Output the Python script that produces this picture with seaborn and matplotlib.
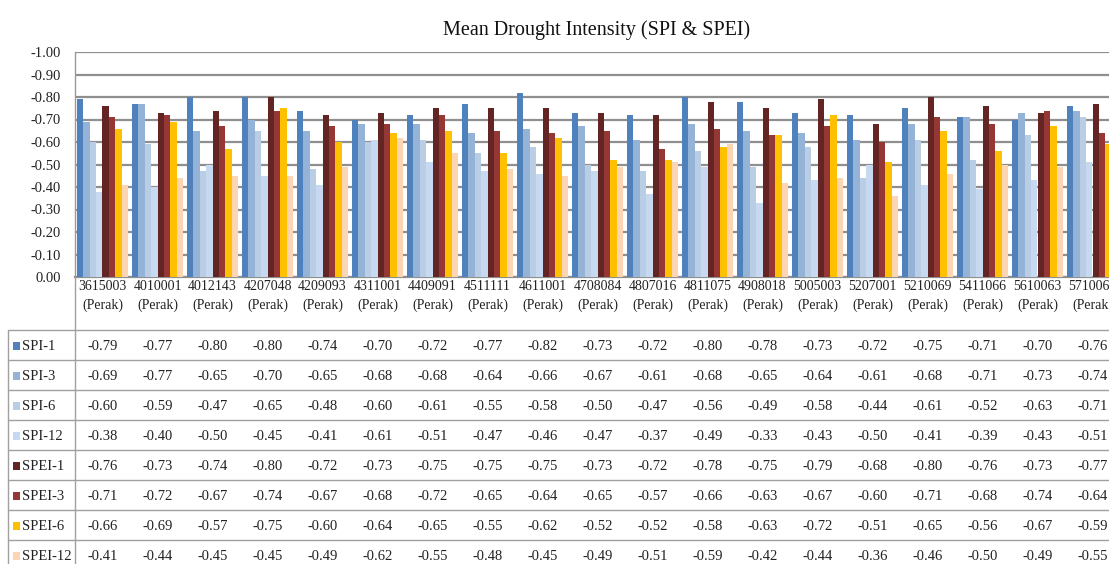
import numpy as np
import pandas as pd
import matplotlib
matplotlib.use("Agg")
import matplotlib.pyplot as plt
from matplotlib.lines import Line2D
from matplotlib.patches import Rectangle
from matplotlib.transforms import blended_transform_factory
import seaborn as sns

stations = ["3615003", "4010001", "4012143", "4207048", "4209093", "4311001",
            "4409091", "4511111", "4611001", "4708084", "4807016", "4811075",
            "4908018", "5005003", "5207001", "5210069", "5411066", "5610063",
            "5710063"]
region = "(Perak)"
series_names = ["SPI-1", "SPI-3", "SPI-6", "SPI-12", "SPEI-1", "SPEI-3", "SPEI-6", "SPEI-12"]

spi_1 = [-0.79, -0.77, -0.80, -0.80, -0.74, -0.70, -0.72, -0.77, -0.82, -0.73, -0.72, -0.80, -0.78, -0.73, -0.72, -0.75, -0.71, -0.70, -0.76]
spi_3 = [-0.69, -0.77, -0.65, -0.70, -0.65, -0.68, -0.68, -0.64, -0.66, -0.67, -0.61, -0.68, -0.65, -0.64, -0.61, -0.68, -0.71, -0.73, -0.74]
spi_6 = [-0.60, -0.59, -0.47, -0.65, -0.48, -0.60, -0.61, -0.55, -0.58, -0.50, -0.47, -0.56, -0.49, -0.58, -0.44, -0.61, -0.52, -0.63, -0.71]
spi_12 = [-0.38, -0.40, -0.50, -0.45, -0.41, -0.61, -0.51, -0.47, -0.46, -0.47, -0.37, -0.49, -0.33, -0.43, -0.50, -0.41, -0.39, -0.43, -0.51]
spei_1 = [-0.76, -0.73, -0.74, -0.80, -0.72, -0.73, -0.75, -0.75, -0.75, -0.73, -0.72, -0.78, -0.75, -0.79, -0.68, -0.80, -0.76, -0.73, -0.77]
spei_3 = [-0.71, -0.72, -0.67, -0.74, -0.67, -0.68, -0.72, -0.65, -0.64, -0.65, -0.57, -0.66, -0.63, -0.67, -0.60, -0.71, -0.68, -0.74, -0.64]
spei_6 = [-0.66, -0.69, -0.57, -0.75, -0.60, -0.64, -0.65, -0.55, -0.62, -0.52, -0.52, -0.58, -0.63, -0.72, -0.51, -0.65, -0.56, -0.67, -0.59]
spei_12 = [-0.41, -0.44, -0.45, -0.45, -0.49, -0.62, -0.55, -0.48, -0.45, -0.49, -0.51, -0.59, -0.42, -0.44, -0.36, -0.46, -0.50, -0.49, -0.55]

series_values = [spi_1, spi_3, spi_6, spi_12, spei_1, spei_3, spei_6, spei_12]
colors = ["#4F81BD", "#95B3D7", "#B9CDE5", "#C6D9F1",
          "#632523", "#953735", "#FFC000", "#FCD5B5"]

yticks = [0.0, -0.1, -0.2, -0.3, -0.4, -0.5, -0.6, -0.7, -0.8, -0.9, -1.0]

rows = []
for name, vals in zip(series_names, series_values):
    for st, v in zip(stations, vals):
        rows.append({"station": st, "index": name, "value": v})
df = pd.DataFrame(rows)

sns.set_style("white")
plt.rcParams["font.family"] = ["Liberation Serif", "DejaVu Serif"]

W, H = 1109, 564
fig = plt.figure(figsize=(W / 100, H / 100), dpi=100)

def fx(px):
    return px / W

def fy(py):
    return 1 - py / H

left, right, top, bottom = 75, 1120, 52, 277
ax = fig.add_axes([fx(left), fy(bottom), fx(right - left), (bottom - top) / H])

sns.barplot(data=df, x="station", y="value", hue="index", order=stations,
            hue_order=series_names, palette=colors, saturation=1, width=0.93,
            linewidth=0, errorbar=None, legend=False, ax=ax, zorder=3)

ax.set_ylim(0, -1.0)
ax.set_xlim(-0.5, len(stations) - 0.5)
ax.set_yticks(yticks)
ax.set_yticklabels([("0.00" if abs(v) < 1e-9 else f"{v:.2f}") for v in yticks],
                   fontsize=10.5, color="#222222")
ax.set_xticks(range(len(stations)))
ax.set_xticklabels([f"{s}\n{region}" for s in stations], fontsize=10,
                   color="#222222", linespacing=1.6)
ax.tick_params(axis="both", length=0)
ax.tick_params(axis="y", pad=10)
ax.tick_params(axis="x", pad=2)
ax.set_xlabel("")
ax.set_ylabel("")
ax.yaxis.grid(True, color="#8f8f8f", linewidth=1.6, zorder=0)
ax.set_axisbelow(True)
for s in ["top", "right"]:
    ax.spines[s].set_visible(False)
ax.spines["left"].set_color("#9a9a9a")
ax.spines["left"].set_linewidth(1.0)
ax.spines["bottom"].set_color("#8f8f8f")
ax.spines["bottom"].set_linewidth(1.6)

fig.text(fx(597), fy(30), "Mean Drought Intensity (SPI & SPEI)", ha="center",
         va="center", fontsize=14.5, color="#111111")

# data table
row_top = 330
row_h = 30
line_color = "#a0a0a0"
for i in range(len(series_names) + 1):
    y = row_top + i * row_h
    fig.add_artist(Line2D([fx(8), fx(W)], [fy(y), fy(y)], transform=fig.transFigure,
                          color=line_color, linewidth=1.0))
fig.add_artist(Line2D([fx(8), fx(8)], [fy(row_top), fy(H)], transform=fig.transFigure,
                      color=line_color, linewidth=1.0))
fig.add_artist(Line2D([fx(75), fx(75)], [fy(bottom), fy(H)], transform=fig.transFigure,
                      color=line_color, linewidth=1.0))

trans = blended_transform_factory(ax.transData, fig.transFigure)
for r, (name, vals, c) in enumerate(zip(series_names, series_values, colors)):
    yc = row_top + r * row_h + 16
    fig.add_artist(Rectangle((fx(13), fy(yc + 4)), fx(7), 8 / H, transform=fig.transFigure,
                             facecolor=c, edgecolor="none"))
    fig.text(fx(22), fy(yc), name, ha="left", va="center", fontsize=10.5, color="#222222")
    for j, v in enumerate(vals):
        ax.text(j, fy(yc), f"{v:.2f}", transform=trans, ha="center", va="center",
                fontsize=10.5, color="#222222", clip_on=False)

fig.savefig("out.png", dpi=100)
